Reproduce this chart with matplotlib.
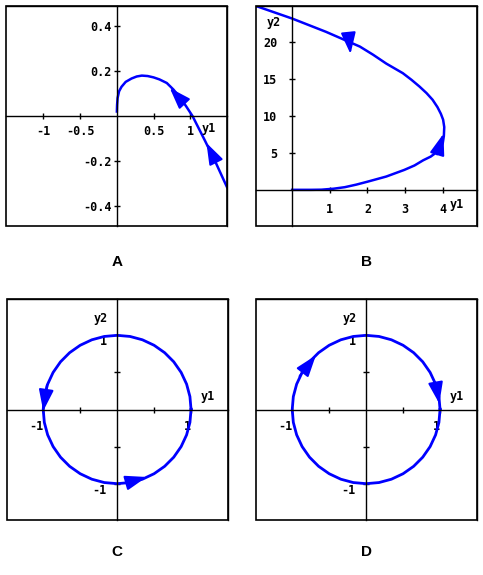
import matplotlib.pyplot as plt
from matplotlib.patches import Rectangle

# panel A trajectory
a_y1 = [0.0, 0.003, 0.01, 0.03, 0.063, 0.12, 0.2, 0.27, 0.34, 0.42, 0.5, 0.58, 0.68,
        0.77, 0.86, 0.94, 1.03, 1.2, 1.35, 1.5]
a_y2 = [0.02, 0.05, 0.08, 0.11, 0.13, 0.152, 0.167, 0.176, 0.18, 0.178, 0.172, 0.163, 0.147,
        0.118, 0.082, 0.045, 0.0, -0.11, -0.21, -0.317]

# panel B trajectory
b_y1 = [0, 0.5, 0.78, 1.1, 1.4, 1.7, 2.0, 2.5, 2.98, 3.25, 3.48, 3.68, 3.84, 3.95, 4.0, 4.03,
        4.04, 4.01, 3.95, 3.86, 3.73, 3.57, 3.38, 3.17, 2.94, 2.5, 2.15, 1.8, 1.35, 0.9, 0.45,
        0.0, -0.48, -0.96]
b_y2 = [0, 0, 0.02, 0.15, 0.36, 0.7, 1.1, 1.8, 2.7, 3.3, 4.0, 4.5, 5.1, 5.7, 6.3, 7.3,
        8.5, 9.5, 10.3, 11.2, 12.2, 13.1, 14.0, 14.9, 15.8, 17.1, 18.3, 19.4, 20.4, 21.4, 22.3,
        23.2, 24.05, 24.9]

# panels C and D orbit
c_y1 = [1, .985, .940, .866, .766, .643, .5, .342, .174, 0, -.174, -.342, -.5, -.643, -.766,
        -.866, -.940, -.985, -1, -.985, -.940, -.866, -.766, -.643, -.5, -.342, -.174, 0,
        .174, .342, .5, .643, .766, .866, .940, .985, 1]
c_y2 = [0, .174, .342, .5, .643, .766, .866, .940, .985, 1, .985, .940, .866, .766, .643, .5,
        .342, .174, 0, -.174, -.342, -.5, -.643, -.766, -.866, -.940, -.985, -1, -.985, -.940,
        -.866, -.766, -.643, -.5, -.342, -.174, 0]

# arrows: (tail, tip)
a_arrows = [((0.9, 0.062), (0.72, 0.125)), ((1.35, -0.205), (1.22, -0.12))]
b_arrows = [((3.85, 4.8), (4.02, 7.6)), ((1.5, 20.9), (1.55, 18.4))]
c_arrows = [((-0.95, 0.33), (-1.0, -0.02)), ((0.12, -0.99), (0.4, -0.91))]
d_arrows = [((-0.9, 0.45), (-0.68, 0.73)), ((0.94, 0.36), (0.99, 0.08))]

a_xticks = [-1, -0.5, 0.5, 1]
a_xlabels = ['-1', '-0.5', '0.5', '1']
a_yticks = [-0.4, -0.2, 0.2, 0.4]
a_ylabels = ['-0.4', '-0.2', '0.2', '0.4']
b_xticks = [1, 2, 3, 4]
b_yticks = [5, 10, 15, 20]
c_ticks = [-1, -0.5, 0.5, 1]
c_labels = ['-1', '', '', '1']

blue = '#0000ff'
W, H = 483, 575
fig = plt.figure(figsize=(W / 100, H / 100), dpi=100)
mono = {'family': 'DejaVu Sans Mono', 'weight': 'bold', 'size': 8.5}


def make_ax(l, t, r, b):
    ax = fig.add_axes([l / W, 1 - b / H, (r - l) / W, (b - t) / H])
    ax.spines['left'].set_position('zero')
    ax.spines['bottom'].set_position('zero')
    for s in ax.spines.values():
        s.set_linewidth(1)
        s.set_color('black')
    ax.add_patch(Rectangle((0, 0), 1, 1, transform=ax.transAxes, fill=False,
                           lw=1.2, ec='black', clip_on=False, zorder=5))
    ax.xaxis.set_ticks_position('bottom')
    ax.yaxis.set_ticks_position('left')
    ax.tick_params(direction='inout', length=5, width=1)
    return ax


def arrows(ax, lst):
    for tail, tip in lst:
        ax.annotate('', xy=tip, xytext=tail,
                    arrowprops=dict(arrowstyle='-|>,head_length=1.3,head_width=0.45',
                                    mutation_scale=10, color=blue, lw=1.5,
                                    shrinkA=0, shrinkB=0))


# A
ax = make_ax(6, 6, 227, 226)
ax.plot(a_y1, a_y2, color=blue, lw=1.8, solid_joinstyle='round')
ax.set_xlim(-1.51, 1.50)
ax.set_ylim(-0.49, 0.49)
ax.set_xticks(a_xticks, a_xlabels, fontdict=mono)
ax.set_yticks(a_yticks, a_ylabels, fontdict=mono)
ax.tick_params(axis='x', pad=4)
ax.tick_params(axis='y', pad=1)
ax.text(1.25, -0.054, 'y1', ha='center', va='center', fontdict=mono)
arrows(ax, a_arrows)

# B
ax = make_ax(256, 6, 477, 226)
ax.plot(b_y1, b_y2, color=blue, lw=1.8, solid_joinstyle='round')
ax.set_xlim(-0.96, 4.91)
ax.set_ylim(-4.9, 24.9)
ax.set_xticks(b_xticks, [str(v) for v in b_xticks], fontdict=mono)
ax.set_yticks(b_yticks, [str(v) for v in b_yticks], fontdict=mono)
ax.tick_params(axis='x', pad=7)
ax.tick_params(axis='y', pad=8)
ax.text(-0.5, 22.7, 'y2', ha='center', va='center', fontdict=mono)
ax.text(4.38, -2.0, 'y1', ha='center', va='center', fontdict=mono)
arrows(ax, b_arrows)

# C and D
for (l, r), arr in [((7, 228), c_arrows), ((256, 477), d_arrows)]:
    ax = make_ax(l, 299, r, 520)
    ax.plot(c_y1, c_y2, color=blue, lw=2, solid_joinstyle='round')
    ax.set_xlim(-1.49, 1.50)
    ax.set_ylim(-1.49, 1.49)
    ax.set_xticks(c_ticks, c_labels, fontdict=mono, ha='right')
    ax.set_yticks(c_ticks, c_labels, fontdict=mono, va='top')
    ax.tick_params(axis='x', pad=5)
    ax.tick_params(axis='y', pad=5)
    ax.text(-0.22, 1.23, 'y2', ha='center', va='center', fontdict=mono)
    ax.text(1.23, 0.18, 'y1', ha='center', va='center', fontdict=mono)
    arrows(ax, arr)

for lab, x, y in [('A', 117, 262), ('B', 366, 262), ('C', 117, 552), ('D', 366, 552)]:
    fig.text(x / W, 1 - y / H, lab, ha='center', va='center',
             family='Liberation Sans', weight='bold', size=11)

fig.savefig('out.png', dpi=100)
